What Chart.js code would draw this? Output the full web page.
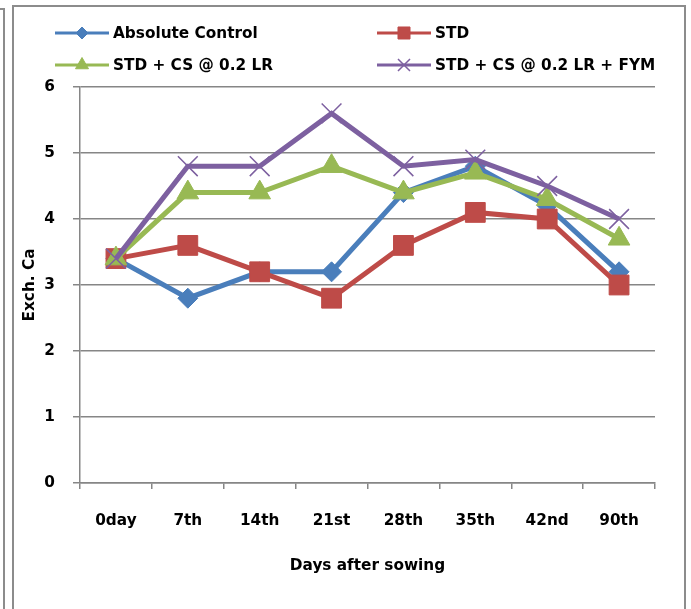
<!DOCTYPE html>
<html>
<head>
<meta charset="utf-8">
<script src="https://cdn.jsdelivr.net/npm/chart.js@4"></script>
<style>
  html, body { margin: 0; padding: 0; background: #ffffff; }
  #wrap { position: relative; width: 691px; height: 609px; }
  canvas { display: block; }
</style>
</head>
<body>
<div id="wrap"><canvas id="chart" width="691" height="609"></canvas></div>
<script>
// Sampling days
const categories = ['0day', '7th', '14th', '21st', '28th', '35th', '42nd', '90th'];

// Exchangeable Ca for each treatment
const absoluteControl = [3.4, 2.8, 3.2, 3.2, 4.4, 4.8, 4.2, 3.2];
const stdValues       = [3.4, 3.6, 3.2, 2.8, 3.6, 4.1, 4.0, 3.0];
const stdCs           = [3.4, 4.4, 4.4, 4.8, 4.4, 4.7, 4.3, 3.7];
const stdCsFym        = [3.4, 4.8, 4.8, 5.6, 4.8, 4.9, 4.5, 4.0];

const seriesNames = ['Absolute Control', 'STD', 'STD + CS @ 0.2 LR', 'STD + CS @ 0.2 LR + FYM'];
const yTicks = [0, 1, 2, 3, 4, 5, 6];

const FONT = "'DejaVu Sans', sans-serif";
const FONT_SIZE = 15.3;
const GRID = '#868686';

const styles = [
  { color: '#4A7EBB', pointStyle: 'rectRot',  radius: 10,   legendRadius: 6,   pbw: 1 },
  { color: '#BE4B48', pointStyle: 'rect',     radius: 14,   legendRadius: 8.5, pbw: 1 },
  { color: '#98B954', pointStyle: 'triangle', radius: 12.5, legendRadius: 7.5, pbw: 1 },
  { color: '#7D60A0', pointStyle: 'crossRot', radius: 14,   legendRadius: 8.5, pbw: 1.5 }
];
const seriesData = [absoluteControl, stdValues, stdCs, stdCsFym];

const datasets = seriesData.map((d, i) => ({
  label: seriesNames[i],
  data: d,
  borderColor: styles[i].color,
  backgroundColor: styles[i].color,
  borderWidth: 5,
  pointStyle: styles[i].pointStyle,
  pointRadius: styles[i].radius,
  pointHoverRadius: styles[i].radius,
  pointBorderWidth: styles[i].pbw,
  pointBorderColor: styles[i].color,
  pointBackgroundColor: styles[i].color,
  tension: 0,
  order: 4 - i
}));

// Frame lines, legend and axis titles drawn straight onto the canvas
const decorations = {
  id: 'decorations',
  beforeDraw(chart) {
    const ctx = chart.ctx;
    ctx.save();
    ctx.strokeStyle = '#8c8c8c';
    ctx.lineWidth = 2;
    ctx.beginPath();
    ctx.moveTo(0, 9); ctx.lineTo(4, 9); ctx.lineTo(4, 609);
    ctx.moveTo(13, 609); ctx.lineTo(13, 6); ctx.lineTo(685, 6); ctx.lineTo(685, 609);
    ctx.stroke();
    ctx.restore();
  },
  afterDraw(chart) {
    const ctx = chart.ctx;
    const area = chart.chartArea;
    ctx.save();
    // legend: two columns, two rows
    const cols = [55, 377];
    const rows = [33, 65];
    chart.data.datasets.forEach((ds, i) => {
      const x0 = cols[i % 2];
      const y = rows[Math.floor(i / 2)];
      ctx.strokeStyle = ds.borderColor;
      ctx.lineWidth = 3;
      ctx.beginPath();
      ctx.moveTo(x0, y);
      ctx.lineTo(x0 + 54, y);
      ctx.stroke();
      ctx.fillStyle = ds.borderColor;
      ctx.strokeStyle = ds.borderColor;
      ctx.lineWidth = ds.pointBorderWidth;
      Chart.helpers.drawPoint(ctx, {
        pointStyle: ds.pointStyle,
        radius: styles[i].legendRadius,
        borderWidth: ds.pointBorderWidth,
        rotation: 0
      }, x0 + 27, y);
      ctx.fillStyle = '#000000';
      ctx.font = 'bold ' + FONT_SIZE + 'px ' + FONT;
      ctx.textAlign = 'left';
      ctx.textBaseline = 'middle';
      ctx.fillText(ds.label, x0 + 58, y + 1);
    });
    // axis titles
    ctx.fillStyle = '#000000';
    ctx.font = 'bold ' + FONT_SIZE + 'px ' + FONT;
    ctx.textAlign = 'center';
    ctx.textBaseline = 'middle';
    ctx.fillText('Days after sowing', (area.left + area.right) / 2, 566);
    ctx.translate(30, (area.top + area.bottom) / 2);
    ctx.rotate(-Math.PI / 2);
    ctx.fillText('Exch. Ca', 0, 0);
    ctx.restore();
  }
};

new Chart(document.getElementById('chart'), {
  type: 'line',
  data: { labels: categories, datasets },
  options: {
    responsive: false,
    animation: false,
    events: [],
    layout: { padding: { left: 13, right: 36, top: 87, bottom: 0 } },
    plugins: { legend: { display: false }, tooltip: { enabled: false }, title: { display: false } },
    scales: {
      x: {
        type: 'category',
        offset: true,
        afterFit(scale) { scale.height = 126; },
        grid: {
          offset: true,
          drawOnChartArea: false,
          drawTicks: true,
          tickLength: 6,
          color: GRID,
          lineWidth: 1.5
        },
        border: { color: GRID, width: 1.5 },
        ticks: {
          color: '#000000',
          font: { family: FONT, size: FONT_SIZE, weight: 'bold' },
          padding: 23,
          maxRotation: 0,
          autoSkip: false
        }
      },
      y: {
        min: 0,
        max: 6,
        afterFit(scale) { scale.width = 67; },
        afterBuildTicks(scale) { scale.ticks = yTicks.map(v => ({ value: v })); },
        grid: {
          color: GRID,
          lineWidth: 1.5,
          drawTicks: true,
          tickLength: 7
        },
        border: { color: GRID, width: 1.5 },
        ticks: {
          color: '#000000',
          font: { family: FONT, size: FONT_SIZE, weight: 'bold' },
          padding: 18
        }
      }
    }
  },
  plugins: [decorations]
});
</script>
</body>
</html>
